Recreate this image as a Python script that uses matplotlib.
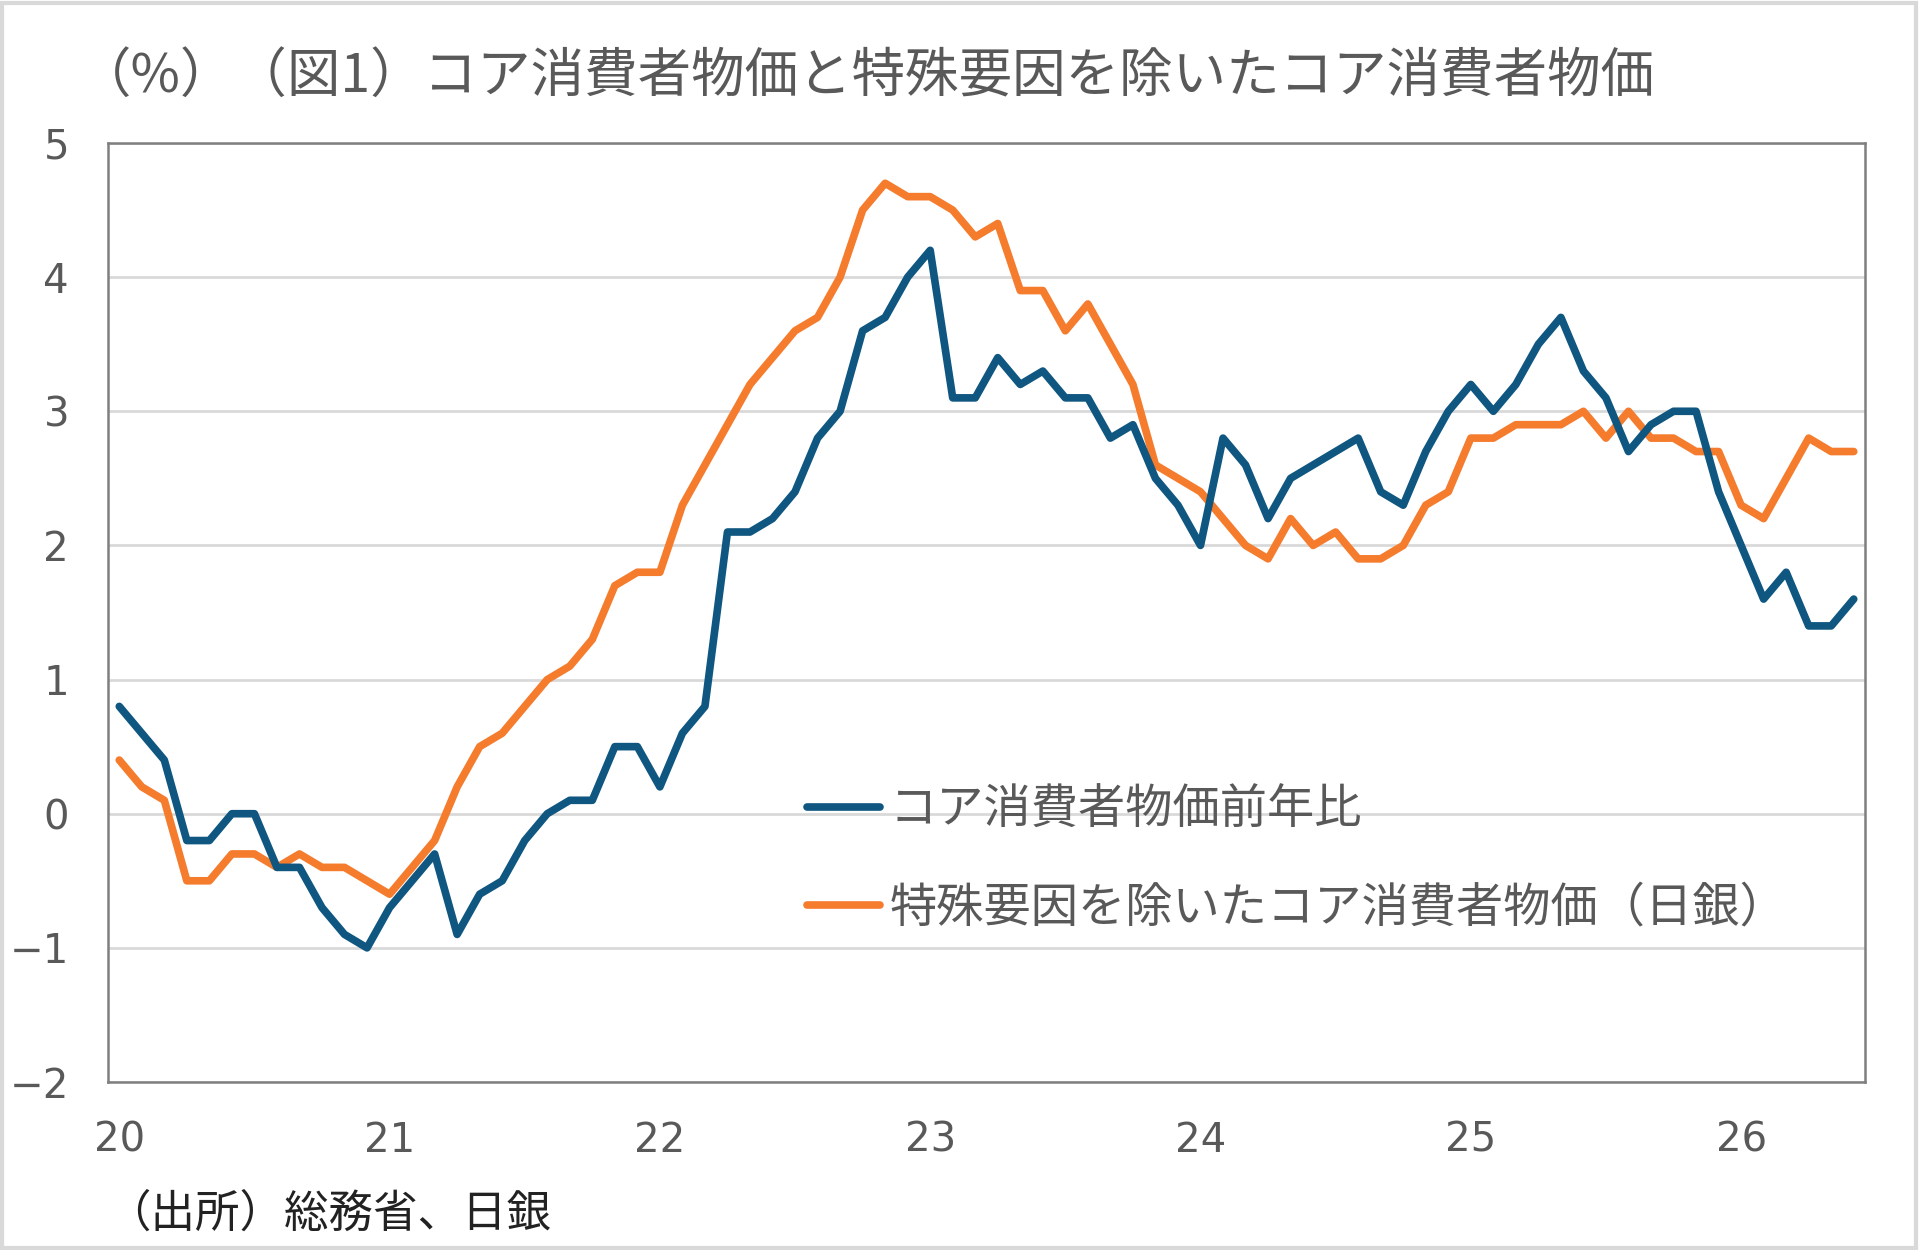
import numpy as np
import matplotlib.pyplot as plt
from matplotlib.patches import Rectangle

plt.rcParams['font.family'] = ['Noto Sans CJK JP', 'DejaVu Sans']

# 月次データ 2020年1月〜2026年6月
core_cpi = [
    0.8, 0.6, 0.4, -0.2, -0.2, 0.0, 0.0, -0.4, -0.4, -0.7, -0.9, -1.0,   # 2020
    -0.7, -0.5, -0.3, -0.9, -0.6, -0.5, -0.2, 0.0, 0.1, 0.1, 0.5, 0.5,   # 2021
    0.2, 0.6, 0.8, 2.1, 2.1, 2.2, 2.4, 2.8, 3.0, 3.6, 3.7, 4.0,          # 2022
    4.2, 3.1, 3.1, 3.4, 3.2, 3.3, 3.1, 3.1, 2.8, 2.9, 2.5, 2.3,          # 2023
    2.0, 2.8, 2.6, 2.2, 2.5, 2.6, 2.7, 2.8, 2.4, 2.3, 2.7, 3.0,          # 2024
    3.2, 3.0, 3.2, 3.5, 3.7, 3.3, 3.1, 2.7, 2.9, 3.0, 3.0, 2.4,          # 2025
    2.0, 1.6, 1.8, 1.4, 1.4, 1.6,                                        # 2026
]
core_ex_special = [
    0.4, 0.2, 0.1, -0.5, -0.5, -0.3, -0.3, -0.4, -0.3, -0.4, -0.4, -0.5,  # 2020
    -0.6, -0.4, -0.2, 0.2, 0.5, 0.6, 0.8, 1.0, 1.1, 1.3, 1.7, 1.8,      # 2021
    1.8, 2.3, 2.6, 2.9, 3.2, 3.4, 3.6, 3.7, 4.0, 4.5, 4.7, 4.6,         # 2022
    4.6, 4.5, 4.3, 4.4, 3.9, 3.9, 3.6, 3.8, 3.5, 3.2, 2.6, 2.5,         # 2023
    2.4, 2.2, 2.0, 1.9, 2.2, 2.0, 2.1, 1.9, 1.9, 2.0, 2.3, 2.4,         # 2024
    2.8, 2.8, 2.9, 2.9, 2.9, 3.0, 2.8, 3.0, 2.8, 2.8, 2.7, 2.7,         # 2025
    2.3, 2.2, 2.5, 2.8, 2.7, 2.7,                                       # 2026
]
year_labels = ['20', '21', '22', '23', '24', '25', '26']
y_ticks = [-2, -1, 0, 1, 2, 3, 4, 5]

label_core = 'コア消費者物価前年比'
label_ex = '特殊要因を除いたコア消費者物価（日銀）'
title = '（%）（図1）コア消費者物価と特殊要因を除いたコア消費者物価'
source = '（出所）総務省、日銀'

gray_txt = '#595959'
blue = '#0F5680'
orange = '#F57B2D'

fig = plt.figure(figsize=(19.2, 12.5), dpi=100)
ax = fig.add_axes([108 / 1920, 1 - 1082 / 1250, (1865 - 108) / 1920, 939 / 1250])

x = np.arange(len(core_cpi))
ax.plot(x, core_cpi, color=blue, lw=5.5, solid_joinstyle='round',
        solid_capstyle='round', label=label_core, zorder=3)
ax.plot(x, core_ex_special, color=orange, lw=5.5, solid_joinstyle='round',
        solid_capstyle='round', label=label_ex, zorder=2)

ax.set_xlim(-0.5, len(core_cpi) - 0.5)
ax.set_ylim(-2, 5)
ax.set_xticks(np.arange(0, len(core_cpi), 12))
ax.set_xticklabels(year_labels)
ax.set_yticks(y_ticks)
ax.set_yticklabels([str(v).replace('-', '\u2212') for v in y_ticks])
ax.tick_params(length=0, labelsize=29, labelcolor=gray_txt)
ax.tick_params(axis='x', pad=28)
ax.tick_params(axis='y', pad=28)
for lab in ax.get_xticklabels() + ax.get_yticklabels():
    lab.set_family(['DejaVu Sans'])

ax.grid(axis='y', color='#D9D9D9', lw=2)
ax.set_axisbelow(True)
for sp in ax.spines.values():
    sp.set_color('#7F7F7F')
    sp.set_linewidth(1.8)

leg = ax.legend(loc='upper left', bbox_to_anchor=(0.387, 0.335), frameon=False,
                fontsize=34, handlelength=1.55, handletextpad=0.2,
                labelspacing=1.05, borderaxespad=0)
for t in leg.get_texts():
    t.set_color(gray_txt)

fig.text(78 / 1920, 1 - 76 / 1250, title, fontsize=38.5, color=gray_txt,
         ha='left', va='center')
fig.text(106 / 1920, 1 - 1214 / 1250, source, fontsize=32, color='#222222',
         ha='left', va='center')

fig.patches.append(Rectangle((0.001, 0.002), 0.997, 0.996, transform=fig.transFigure,
                             fill=False, edgecolor='#D9D9D9', lw=3))

fig.savefig('out.png', dpi=100, facecolor='white')
